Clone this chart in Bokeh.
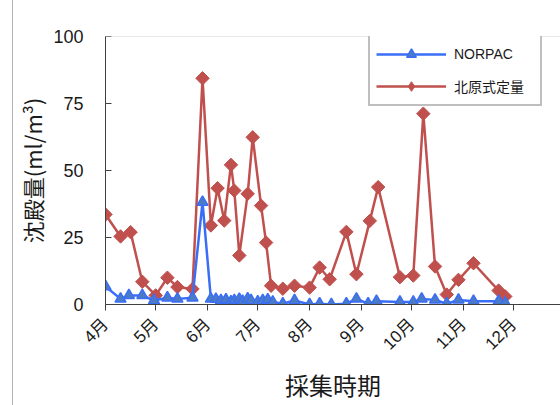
import math
import pandas as pd
from bokeh.plotting import figure
from bokeh.layouts import row
from bokeh.models import (FixedTicker, Span, Legend, LegendItem, ColumnDataSource, Spacer,
                          CDSView, IndexFilter)
from bokeh.embed import file_html
from bokeh.resources import INLINE

# ---- data ----
year = 2010
red_dates = ["4/1", "4/10", "4/16", "4/23", "5/1", "5/8", "5/14", "5/23", "5/29",
             "6/3", "6/7", "6/11", "6/15", "6/17", "6/20", "6/25", "6/28", "7/3",
             "7/6", "7/9", "7/16", "7/23", "8/1", "8/7", "8/13", "8/23", "8/29",
             "9/6", "9/11", "9/24", "10/2", "10/8", "10/15", "10/22", "10/29",
             "11/7", "11/22", "11/26"]
red_values = [33.6, 25.4, 27.0, 8.5, 3.4, 10.0, 6.5, 5.8, 84.4,
              29.5, 43.4, 31.3, 52.1, 42.5, 18.3, 41.3, 62.4, 36.9,
              23.1, 7.0, 5.9, 7.0, 6.3, 13.8, 9.4, 27.1, 11.3,
              31.2, 43.8, 10.2, 10.8, 71.2, 14.2, 3.7, 9.2,
              15.4, 5.2, 3.0]

blue_dates = ["4/1", "4/10", "4/15", "4/23", "4/30", "5/8", "5/14", "5/23", "5/29",
              "6/3", "6/6", "6/9", "6/12", "6/15", "6/17", "6/20", "6/22", "6/25",
              "6/27", "7/1", "7/4", "7/7", "7/10", "7/16", "7/23", "8/1", "8/7",
              "8/14", "8/23", "8/29", "9/5", "9/10", "9/24", "10/2", "10/7",
              "10/15", "10/22", "10/29", "11/7", "11/22", "11/26"]
blue_values = [6.7, 2.1, 3.4, 3.4, 1.5, 2.5, 2.1, 2.5, 38.2,
               2.1, 2.0, 1.5, 1.8, 1.0, 1.5, 2.0, 1.2, 2.2,
               1.5, 1.0, 1.5, 1.8, 0.9, 0.3, 1.5, 0.0, 0.3,
               0.0, 0.3, 2.1, 0.3, 1.2, 0.9, 0.9, 2.1,
               1.7, 0.3, 1.7, 1.2, 1.2, 0.5]

month_labels = ["4月", "5月", "6月", "7月", "8月", "9月", "10月", "11月", "12月"]
y_ticks = [0, 25, 50, 75, 100]

series_names = ["NORPAC", "北原式定量"]

# ---- helpers ----
origin = pd.Timestamp(f"{year}-04-01")

def to_days(md_list):
    return [(pd.Timestamp(f"{year}-{md.replace('/', '-')}") - origin).days for md in md_list]

month_days = [(pd.Timestamp(f"{year}-{m}-01") - origin).days for m in range(4, 13)]

red_src = ColumnDataSource(dict(x=to_days(red_dates), y=red_values))
blue_src = ColumnDataSource(dict(x=to_days(blue_dates), y=blue_values))

RED = "#C0504D"
BLUE = "#3A6EF7"
BLUE_FILL = "#4A7BC4"
LATIN_CJK = "Liberation Sans, Noto Sans CJK JP"

p = figure(width=547, height=405, output_backend="svg", toolbar_location=None,
           x_range=(0, 272), y_range=(0, 100))
p.min_border_left = 92
p.min_border_right = 0
p.min_border_top = 36
p.min_border_bottom = 101
p.outline_line_color = None
p.grid.visible = False
p.background_fill_color = "white"
p.border_fill_color = "white"

# frame top line
p.add_layout(Span(location=100, dimension="width", line_color="#d0d0d0", line_width=1))

# lines & markers
rl = p.line("x", "y", source=red_src, line_color=RED, line_width=2.5)
rm = p.scatter("x", "y", source=red_src, marker="square", angle=math.pi / 4,
               size=9.5, fill_color=RED, line_color=RED, line_width=1)
bl = p.line("x", "y", source=blue_src, line_color=BLUE, line_width=2.5)
bm = p.scatter("x", "y", source=blue_src, marker="triangle", size=11,
               fill_color=BLUE_FILL, line_color=BLUE, line_width=1.5)

# diamond key for the legend (only the first point, hidden under its rotated square)
red_key = p.scatter("x", "y", source=red_src, view=CDSView(filter=IndexFilter(indices=[0])),
                    marker="diamond", size=12, fill_color=RED, line_color=RED)

# x axis
xa = p.xaxis[0]
xa.ticker = FixedTicker(ticks=month_days)
xa.major_label_overrides = {d: lab for d, lab in zip(month_days, month_labels)}
xa.major_label_orientation = math.pi / 4
xa.major_label_text_font = LATIN_CJK
xa.major_label_text_font_size = "17px"
xa.major_label_text_color = "#1a1a1a"
xa.major_tick_in = 0
xa.major_tick_out = 6
xa.minor_tick_in = 0
xa.minor_tick_out = 0
xa.axis_line_color = "#404040"
xa.major_tick_line_color = "#404040"
xa.major_label_standoff = 11
xa.axis_label = "採集時期"
xa.axis_label_text_font = "Noto Sans CJK JP"
xa.axis_label_text_font_size = "24px"
xa.axis_label_text_font_style = "normal"
xa.axis_label_text_color = "#1a1a1a"
xa.axis_label_standoff = 4

# y axis
ya = p.yaxis[0]
ya.ticker = FixedTicker(ticks=y_ticks)
ya.major_label_text_font = "Liberation Sans"
ya.major_label_text_font_size = "18px"
ya.major_label_text_color = "#1a1a1a"
ya.major_tick_in = 6
ya.major_tick_out = 0
ya.minor_tick_in = 0
ya.minor_tick_out = 0
ya.axis_line_color = "#404040"
ya.major_tick_line_color = "#404040"
ya.major_label_standoff = 22
ya.axis_label = "沈殿量(ml/m³)"
ya.axis_label_text_font = "Noto Sans CJK JP"
ya.axis_label_text_font_size = "22px"
ya.axis_label_text_font_style = "normal"
ya.axis_label_text_color = "#1a1a1a"
ya.axis_label_standoff = 2

legend = Legend(items=[LegendItem(label=series_names[0], renderers=[bl, bm]),
                       LegendItem(label=series_names[1], renderers=[rl, red_key])],
                location=(263, 198))
legend.border_line_color = "#808080"
legend.border_line_width = 2
legend.background_fill_color = "white"
legend.background_fill_alpha = 1.0
legend.label_text_font = LATIN_CJK
legend.label_text_font_size = "14px"
legend.label_text_color = "#1a1a1a"
legend.glyph_width = 70
legend.glyph_height = 24
legend.label_height = 24
legend.label_width = 80
legend.label_standoff = 8
legend.spacing = 8
legend.padding = 6
legend.margin = 0
p.add_layout(legend, "center")

# outer chart border at the left (as in the source chart)
gap = Spacer(width=12, height=405)
edge = Spacer(width=1, height=405, styles={"background-color": "#b4b4b4"})
layout = row(gap, edge, p, spacing=0)

open("out.html", "w").write(file_html(layout, INLINE))
